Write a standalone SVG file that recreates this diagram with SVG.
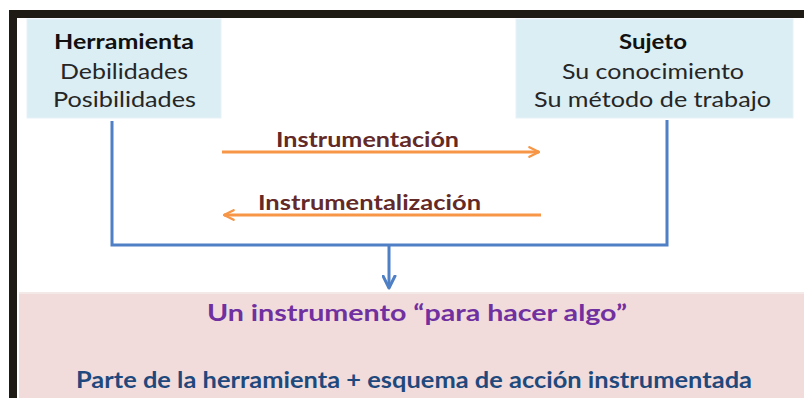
<svg xmlns="http://www.w3.org/2000/svg" width="804" height="398" viewBox="0 0 804 398">
<style>
.box{fill:#DBEEF4;stroke:#E6F2F7;stroke-width:1}
text{font-family:Lato,"Liberation Sans",sans-serif;text-anchor:middle}
.t{font-size:21px;fill:#262626}
.b{font-weight:bold;fill:#111}
.lbl{font-size:21px;font-weight:bold;fill:#632A28}
.blue{fill:none;stroke:#4F7FC4;stroke-width:3}
.orange{fill:none;stroke:#F79646;stroke-width:3}
</style>
<defs>
<marker id="ao" viewBox="0 0 10 10" refX="9" refY="5" markerWidth="4" markerHeight="4" orient="auto" markerUnits="strokeWidth">
<path d="M1,1 L9,5 L1,9" fill="none" stroke="#F79646" stroke-width="2" stroke-linecap="round" stroke-linejoin="round"/>
</marker>
<marker id="ab" viewBox="0 0 10 10" refX="9" refY="5" markerWidth="5" markerHeight="5" orient="auto" markerUnits="strokeWidth">
<path d="M1,1 L9,5 L1,9" fill="none" stroke="#4F7FC4" stroke-width="2" stroke-linecap="round" stroke-linejoin="round"/>
</marker>
</defs>
<rect x="0" y="0" width="804" height="398" fill="#fff"/>
<g id="frame">
<rect x="9" y="10" width="795" height="8" fill="#1E1A14"/>
<rect x="9" y="10" width="8" height="388" fill="#1E1A14"/>
</g>
<g id="resultado">
<rect x="19" y="292" width="785" height="106" fill="#F2DCDB"/>
<rect x="19" y="292" width="785" height="2" fill="#F3EAE8"/>
<text x="417" y="321" font-size="23" font-weight="bold" fill="#7030A0" textLength="420" lengthAdjust="spacingAndGlyphs">Un instrumento “para hacer algo”</text>
<text x="414" y="388" font-size="22" font-weight="bold" fill="#1F497D" textLength="676" lengthAdjust="spacingAndGlyphs">Parte de la herramienta + esquema de acción instrumentada</text>
</g>
<g id="herramienta">
<rect class="box" x="27" y="19" width="194" height="99"/>
<text class="t b" x="124" y="49" textLength="140" lengthAdjust="spacingAndGlyphs">Herramienta</text>
<text class="t" x="124" y="79" textLength="128" lengthAdjust="spacingAndGlyphs">Debilidades</text>
<text class="t" x="124.5" y="107" textLength="143" lengthAdjust="spacingAndGlyphs">Posibilidades</text>
</g>
<g id="sujeto">
<rect class="box" x="516" y="19" width="277" height="99"/>
<text class="t b" x="653" y="49" textLength="68" lengthAdjust="spacingAndGlyphs">Sujeto</text>
<text class="t" x="653" y="79" textLength="182" lengthAdjust="spacingAndGlyphs">Su conocimiento</text>
<text class="t" x="652.5" y="107" textLength="237" lengthAdjust="spacingAndGlyphs">Su método de trabajo</text>
</g>
<g id="connectors">
<path class="blue" d="M112,121 V245 H667 V120"/>
<path class="blue" d="M389,245 V288" marker-end="url(#ab)"/>
<path class="orange" d="M222,152 H539" marker-end="url(#ao)"/>
<text class="lbl" x="367.5" y="147" textLength="183" lengthAdjust="spacingAndGlyphs">Instrumentación</text>
<path class="orange" d="M541,215 H224" marker-end="url(#ao)"/>
<text class="lbl" x="369.5" y="210" textLength="223" lengthAdjust="spacingAndGlyphs">Instrumentalización</text>
</g>
</svg>
